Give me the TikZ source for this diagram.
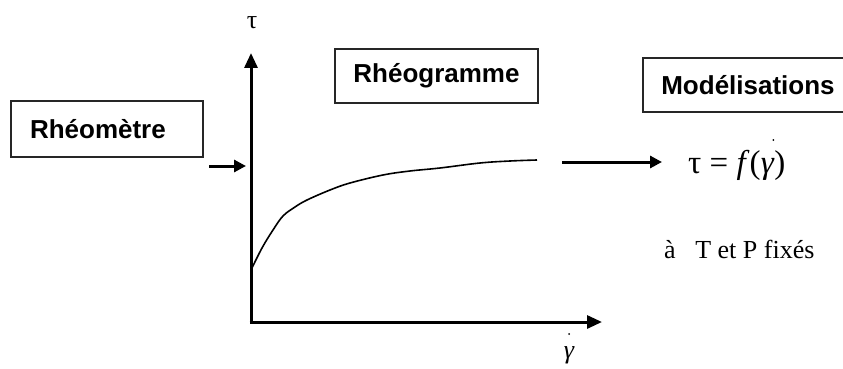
\documentclass[tikz,border=0pt]{standalone}
\usepackage{fontspec}
\setmainfont{Liberation Serif}
\setsansfont{Liberation Sans}
\usetikzlibrary{arrows.meta}
\begin{document}
\begin{tikzpicture}[x=1pt,y=-1pt,
  box/.style={draw=black!85, line width=1.3pt, rectangle, inner ysep=0pt, inner xsep=0pt,
    font=\sffamily\bfseries\fontsize{26}{30}\selectfont},
  axisline/.style={line width=3pt, -{Triangle[length=15pt,width=13pt]}},
  flow/.style={line width=3pt, -{Triangle[length=12pt,width=12pt]}},
  curveline/.style={line width=1.6pt},
  lbl/.style={inner sep=0pt, font=\fontsize{26}{30}\selectfont},
  formula/.style={inner sep=0pt, font=\fontsize{33}{38}\selectfont},
  dotmark/.style={fill=black, draw=none}]
\useasboundingbox (0,0) rectangle (843,369);
\fill[white] (0,0) rectangle (843,369);
\begin{scope}
\clip (0,0) rectangle (843,369);
% boxes
\node[box, minimum width=192pt, minimum height=56pt, text width=154pt, inner xsep=19pt, align=left] (rheometre) at (107,129) {Rhéomètre};
\node[box, minimum width=203pt, minimum height=54pt] (rheogramme) at (436.5,76) {Rhéogramme};
\node[box, minimum width=210pt, minimum height=54pt] (modelisations) at (748,85) {Modélisations};
% axes
\coordinate (O) at (251,322);
\coordinate (Obot) at (251,323.5);
\coordinate (Oleft) at (249.5,322);
\coordinate (ytop) at (251,53);
\coordinate (xend) at (602,322);
\draw[axisline] (Obot) -- (ytop);
\draw[axisline] (Oleft) -- (xend);
\node[lbl] (tau) at (252,23) {τ};
\node[lbl, font=\itshape\fontsize{26}{30}\selectfont] (gammadot) at (569,355) {γ};
\fill[dotmark] (569,334) circle (1pt);
% curve
\draw[curveline] plot[smooth, tension=0.6] coordinates {(251,270) (262,248) (273,230) (283,216) (295,207) (307,200) (330,190) (350,183) (383,175) (410,171) (440,168) (480,163) (510,161) (537,160)};
% arrows
\coordinate (a1) at (209,166);
\coordinate (a2) at (246,166);
\draw[flow] (a1) -- (a2);
\coordinate (b1) at (562,162);
\coordinate (b2) at (662,162);
\draw[flow] (b1) -- (b2);
% formula
\node[formula, anchor=base west] (loiA) at (688,173) {τ = \textit{f}(};
\node[formula, anchor=base west, font=\itshape\fontsize{33}{38}\selectfont] (gam) at (loiA.base east) {γ};
\node[formula, anchor=base west] (loiB) at (gam.base east) {)};
\fill[dotmark] ([xshift=6pt,yshift=33pt]gam.base) circle (1pt);
\node[lbl, anchor=base west] (cond) at (664,258) {à\hspace{0.5em} T et P fixés};
\end{scope}
\end{tikzpicture}
\end{document}
